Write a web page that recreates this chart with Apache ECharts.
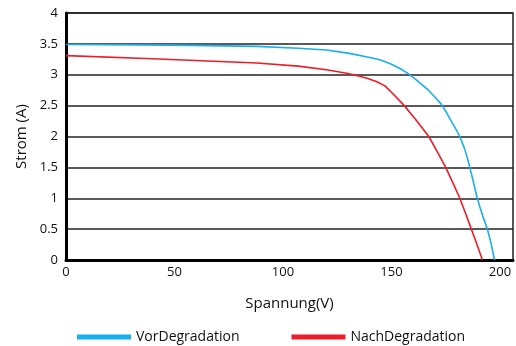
<!DOCTYPE html>
<html><head><meta charset="utf-8">
<script src="https://cdn.jsdelivr.net/npm/echarts@6/dist/echarts.min.js"></script>
<style>html,body{margin:0;padding:0;background:#fff}#c{width:516px;height:346px}</style>
</head><body><div id="c"></div>
<script>
var seriesNames = ['VorDegradation', 'NachDegradation'];
var xTicks = [0, 50, 100, 150, 200];
var yTicks = [0, 0.5, 1, 1.5, 2, 2.5, 3, 3.5, 4];
var vorV = [0, 50, 88, 107, 120, 130, 140, 145, 150, 155, 158, 161, 164, 167, 170, 173, 175.5, 178, 180, 181.5, 183.5, 185, 186, 187.5, 189.4, 190.8, 192.5, 194.2, 196, 197.5];
var vorI = [3.49, 3.48, 3.46, 3.43, 3.40, 3.35, 3.28, 3.24, 3.17, 3.08, 3.01, 2.93, 2.84, 2.75, 2.64, 2.52, 2.38, 2.22, 2.10, 2.0, 1.82, 1.65, 1.51, 1.30, 1.02, 0.85, 0.67, 0.5, 0.25, 0];
var nachV = [0, 40, 88, 107, 120, 130, 138, 143, 147, 151, 155.9, 161.5, 167.2, 171, 175, 178.3, 181.5, 184.2, 186.8, 189.4, 191.9];
var nachI = [3.31, 3.26, 3.19, 3.14, 3.08, 3.02, 2.95, 2.89, 2.82, 2.68, 2.50, 2.26, 2.0, 1.76, 1.5, 1.25, 1.0, 0.75, 0.5, 0.25, 0];

function pairs(xs, ys) { return xs.map(function (x, i) { return [x, ys[i]]; }); }
var font = '"Open Sans", "Noto Sans", sans-serif';
var chart = echarts.init(document.getElementById('c'));
chart.setOption({
  animation: false,
  grid: { left: 66, right: 1, top: 13, bottom: 86, show: true, borderColor: '#222', borderWidth: 1.5 },
  xAxis: {
    type: 'value', min: 0, max: 206, interval: 50,
    name: 'Spannung(V)', nameLocation: 'middle', nameGap: 36,
    nameTextStyle: { fontFamily: font, fontSize: 15, color: '#111' },
    axisLine: { show: true, lineStyle: { color: '#000', width: 3 } },
    axisTick: { show: false },
    splitLine: { show: false },
    axisLabel: { fontFamily: font, fontSize: 13, color: '#111', margin: 6,
      formatter: function (v) { return xTicks.indexOf(v) >= 0 ? String(v) : ''; } }
  },
  yAxis: {
    type: 'value', min: 0, max: 4, interval: 0.5,
    name: 'Strom (A)', nameLocation: 'middle', nameGap: 37, nameRotate: 90,
    nameTextStyle: { fontFamily: font, fontSize: 15, color: '#111' },
    axisLine: { show: true, lineStyle: { color: '#000', width: 3 } },
    axisTick: { show: false },
    splitLine: { show: true, lineStyle: { color: '#222', width: 1.5 } },
    axisLabel: { fontFamily: font, fontSize: 13, color: '#111', margin: 8,
      formatter: function (v) { return yTicks.indexOf(v) >= 0 ? String(v) : ''; } }
  },
  legend: {
    top: 325, left: 72, itemGap: 52, icon: 'rect', itemWidth: 54, itemHeight: 5,
    textStyle: { fontFamily: font, fontSize: 14, color: '#111' },
    data: seriesNames
  },
  series: [
    { name: seriesNames[0], type: 'line', data: pairs(vorV, vorI), smooth: false, showSymbol: false,
      lineStyle: { color: '#1aaeea', width: 1.6 }, itemStyle: { color: '#1aaeea' } },
    { name: seriesNames[1], type: 'line', data: pairs(nachV, nachI), smooth: false, showSymbol: false,
      lineStyle: { color: '#ec1c2a', width: 1.6 }, itemStyle: { color: '#ec1c2a' } }
  ]
});
</script></body></html>
